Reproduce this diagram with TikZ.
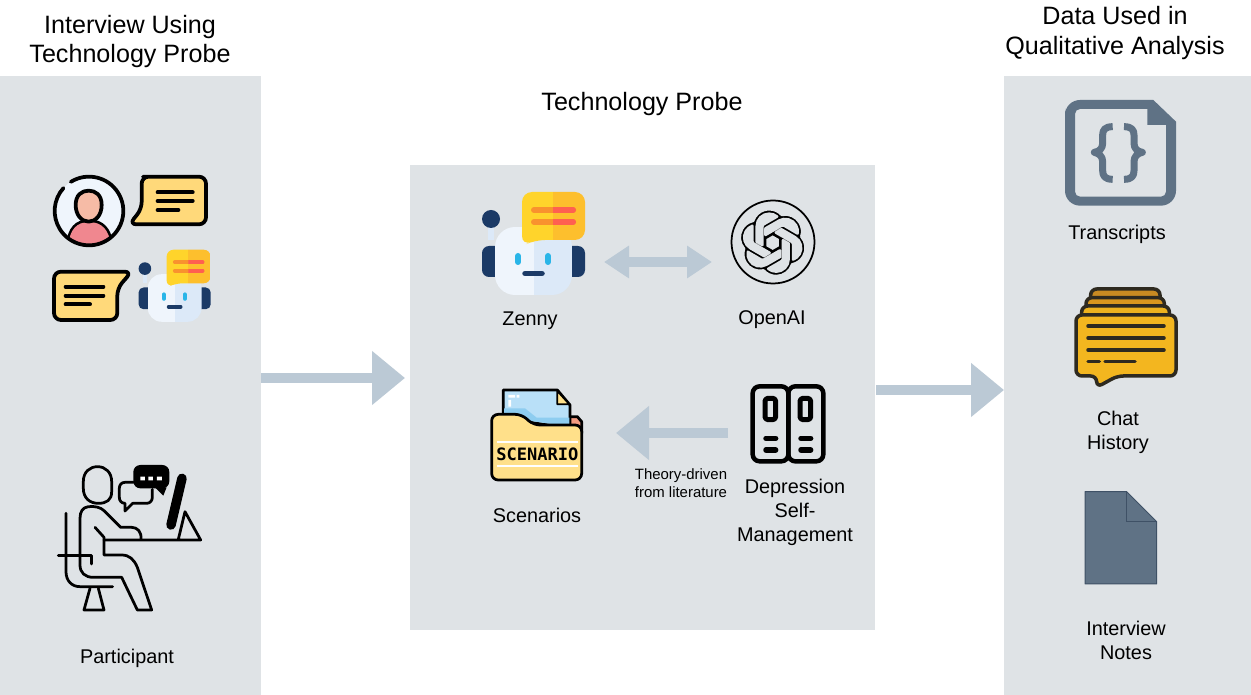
\documentclass[tikz,border=0pt]{standalone}
\usepackage{fontspec}
\setmainfont{Liberation Sans}
\newfontfamily\scnfont{DejaVu Sans Mono}
\usetikzlibrary{arrows.meta,svg.path}
\definecolor{panelc}{HTML}{DFE3E6}
\definecolor{arrowc}{HTML}{BBC9D5}
\definecolor{slatec}{HTML}{5F7285}
\definecolor{slated}{HTML}{3F5166}
\definecolor{navyc}{HTML}{1B3A66}
\definecolor{headl}{HTML}{EFF5FC}
\definecolor{headr}{HTML}{DCE9F8}
\definecolor{bubl}{HTML}{FFD42B}
\definecolor{bubr}{HTML}{FDBF2D}
\definecolor{orgc}{HTML}{F9922E}
\definecolor{redc}{HTML}{FF6050}
\definecolor{eyec}{HTML}{29B5E8}
\definecolor{ybub}{HTML}{FFD97A}
\definecolor{fold}{HTML}{FFE08A}
\definecolor{paper}{HTML}{B9E0F8}
\definecolor{paperd}{HTML}{8ECDF0}
\definecolor{chatm}{HTML}{F3B61F}
\definecolor{chata}{HTML}{EDB21E}
\definecolor{chatb}{HTML}{D8961E}
\definecolor{chatc}{HTML}{C88A22}
\definecolor{chatk}{HTML}{2E2A20}
\definecolor{pinkc}{HTML}{F0878F}
\definecolor{skinc}{HTML}{F6BBA6}
\definecolor{salmon}{HTML}{F29A80}
\tikzset{
  panel/.style={fill=panelc,draw=none,inner sep=0pt,outer sep=0pt},
  lab/.style={font=\fontsize{11.3}{13.66}\selectfont,align=center,text=black,inner sep=0pt},
  head/.style={font=\fontsize{14.3}{17}\selectfont,align=center,text=black,inner sep=0pt},
  small/.style={font=\fontsize{8.5}{10.2}\selectfont,align=center,text=black,inner sep=0pt},
  blockarrow/.style={draw=arrowc,line width=0.2cm,-{Triangle[length=0.66cm,width=1.04cm]}},
  blockboth/.style={draw=arrowc,line width=0.19cm,{Triangle[length=0.5cm,width=0.62cm]}-{Triangle[length=0.5cm,width=0.62cm]}},
  ink/.style={draw=black,line join=round,line cap=round},
}
\newcommand{\robotpic}[3]{%
  \begin{scope}[shift={(#1,#2)},scale=#3]
    \pgfmathsetmacro{\rra}{11.4*#3}
    \pgfmathsetmacro{\rrb}{5.7*#3}
    \pgfmathsetmacro{\rrc}{4*#3}
    \draw[draw=headr,line width=#3*0.12cm] (-43,-21) -- (-43,0);
    \fill[navyc] (-43,-21) circle[radius=9];
    \fill[navyc,rounded corners=\rrc pt] (-52,6) rectangle (-30,37);
    \fill[navyc,rounded corners=\rrc pt] (30,6) rectangle (51,37);
    \begin{scope}
      \clip[rounded corners=\rra pt] (-39,-13) rectangle (38,55);
      \fill[headl] (-39,-13) rectangle (0,55);
      \fill[headr] (0,-13) rectangle (38,55);
    \end{scope}
    \begin{scope}
      \clip[rounded corners=\rrb pt] (-12,6) -- (-12,-48) -- (51,-48) -- (51,0) -- (1,0) -- cycle;
      \fill[bubl] (-13,-49) rectangle (19,7);
      \fill[bubr] (19,-49) rectangle (52,7);
      \draw[orgc,line width=#3*0.12cm,line cap=round] (0,-30) -- (39,-30) (0,-18) -- (39,-18);
      \begin{scope}
        \clip (19,-49) rectangle (52,7);
        \draw[redc,line width=#3*0.12cm,line cap=round] (0,-30) -- (39,-30) (0,-18) -- (39,-18);
      \end{scope}
    \end{scope}
    \draw[eyec,line width=#3*0.12cm,line cap=round] (-16,16) -- (-16,22) (14,16) -- (14,22);
    \draw[navyc,line width=#3*0.11cm,line cap=round] (-9,33.5) -- (8,33.5);
  \end{scope}}
\begin{document}
\begin{tikzpicture}[x=0.02cm,y=-0.02cm]
\useasboundingbox (0,0) rectangle (1251,695);
% panels
\fill[white] (0,0) rectangle (1251,695);
\node[panel,minimum width=5.22cm,minimum height=12.38cm] (pleft) at (130.5,385.5) {};
\node[panel,minimum width=9.3cm,minimum height=9.3cm] (pmid) at (642.5,397.5) {};
\node[panel,minimum width=4.94cm,minimum height=12.38cm] (pright) at (1127.5,385.5) {};
% headings
\node[head] (t1) at (130,41.5) {Interview Using\\Technology Probe};
\node[head] (t2) at (642,104.5) {Technology Probe};
\node[head] (t3) at (1115,33) {Data Used in\\Qualitative Analysis};
% connector ends
\coordinate (a1s) at (261,378); \coordinate (a1e) at (405,378);
\coordinate (a2s) at (876,390); \coordinate (a2e) at (1004,390);
\coordinate (a3s) at (604,262); \coordinate (a3e) at (712,262);
\coordinate (a4s) at (728,433); \coordinate (a4e) at (616,433);
\draw[blockarrow] (a1s) -- (a1e);
\draw[blockarrow] (a2s) -- (a2e);
\draw[blockboth] (a3s) -- (a3e);
\draw[blockarrow] (a4s) -- (a4e);
% chat icons (left panel)
\begin{scope}[shift={(30,160)},scale=1/3]
  \fill[headl] (177,153) circle[radius=103];
  \begin{scope}
    \clip (177,153) circle[radius=103];
    \fill[black] (108,255) .. controls (112,205) and (135,178) .. (177,178) .. controls (220,178) and (245,205) .. (250,255) -- cycle;
    \fill[pinkc] (116,255) .. controls (118,210) and (140,186) .. (177,186) .. controls (215,186) and (238,210) .. (242,255) -- cycle;
  \end{scope}
  \draw[ink,line width=0.075cm,fill=skinc] (137,135) .. controls (137,105) and (155,92) .. (176,92) .. controls (197,92) and (215,105) .. (215,135) .. controls (215,165) and (197,185) .. (176,185) .. controls (155,185) and (137,165) .. (137,135) -- cycle;
  \draw[ink,line width=0.075cm] (177,153) ++(238:103) arc[start angle=238,end angle=582,radius=103];
  \draw[ink,line width=0.075cm,fill=ybub,rounded corners=0.14cm] (360,50) -- (528,50) -- (528,193) -- (298,193) -- (335,147) -- (335,50) -- cycle;
  \draw[ink,line width=0.08cm] (383,97) -- (488,97) (383,123) -- (488,123) (383,150) -- (445,150);
  \draw[ink,line width=0.075cm,fill=ybub,rounded corners=0.14cm] (72,335) -- (305,335) -- (262,385) -- (262,480) -- (72,480) -- cycle;
  \draw[ink,line width=0.08cm] (107,380) -- (220,380) (107,407) -- (220,407) (107,433) -- (180,433);
\end{scope}
\robotpic{175}{283.3}{0.7}
% participant
\begin{scope}[shift={(30,450)},scale=1/3]
  \tikzset{pl/.style={ink,line width=0.055cm}}
  \draw[pl] (160,95) .. controls (160,65) and (180,50) .. (203,50) .. controls (227,50) and (245,68) .. (245,95) -- (245,125) .. controls (245,150) and (230,160) .. (205,160) .. controls (180,160) and (160,145) .. (160,115) -- cycle;
  \draw[pl] (333,268) .. controls (335,245) and (322,232) .. (305,232) -- (272,232) -- (222,182) .. controls (212,172) and (195,168) .. (175,170) .. controls (158,172) and (150,185) .. (150,205) -- (150,345) .. controls (150,368) and (165,382) .. (190,382) -- (275,382) -- (322,480) -- (365,480) -- (322,352) .. controls (312,328) and (298,315) .. (275,315) -- (222,315) -- (222,262) -- (195,232);
  \draw[pl] (222,270) -- (512,270) -- (465,185) -- (445,268);
  \draw[black,line width=0.19cm,line cap=round] (423,225) -- (456,85);
  \draw[pl] (108,190) -- (108,365) .. controls (108,392) and (125,410) .. (150,410) -- (248,410);
  \draw[pl] (85,316) -- (185,316) -- (185,342);
  \draw[pl] (180,415) -- (162,480) -- (222,480) -- (205,415);
  \draw[pl] (310,97) -- (285,97) .. controls (274,97) and (268,105) .. (268,115) -- (268,142) .. controls (268,152) and (274,160) .. (285,160) -- (285,183) -- (308,160) -- (350,160) .. controls (360,160) and (367,152) .. (367,142) -- (367,118);
  \fill[black,rounded corners=0.14cm] (310,45) rectangle (418,115);
  \fill[black] (375,112) -- (400,137) -- (410,112) -- cycle;
  \fill[white] (331,80) rectangle (345,91) (355,80) rectangle (369,91) (381,80) rectangle (396,91);
\end{scope}
\node[lab] (lpart) at (127,658) {Participant};
% zenny
\robotpic{534}{240}{1}
\node[lab] (lzen) at (530,321) {Zenny};
% OpenAI logo
\draw[black,line width=0.035cm] (773,242) circle[radius=41.5];
\begin{scope}[shift={(739.3,209.3)},scale=1.583,yscale=-1]
  \path[fill=black,even odd rule,draw=panelc,line width=0.05cm,line join=round] svg "M 22.2819 9.8211 a 5.9847 5.9847 0 0 0 -0.5157 -4.9108 a 6.0462 6.0462 0 0 0 -6.5098 -2.9 A 6.0651 6.0651 0 0 0 4.9807 4.1818 a 5.9847 5.9847 0 0 0 -3.9977 2.9 a 6.0462 6.0462 0 0 0 0.7427 7.0966 a 5.98 5.98 0 0 0 0.511 4.9107 a 6.051 6.051 0 0 0 6.5146 2.9001 A 5.9847 5.9847 0 0 0 13.2599 24 a 6.0557 6.0557 0 0 0 5.7718 -4.2058 a 5.9894 5.9894 0 0 0 3.9977 -2.9001 a 6.0557 6.0557 0 0 0 -0.7475 -7.0729 z m -9.022 12.6081 a 4.4755 4.4755 0 0 1 -2.8764 -1.0408 l 0.1419 -0.0804 l 4.7783 -2.7582 a 0.7948 0.7948 0 0 0 0.3927 -0.6813 v -6.7369 l 2.02 1.1686 a 0.071 0.071 0 0 1 0.038 0.052 v 5.5826 a 4.504 4.504 0 0 1 -4.4945 4.4944 z m -9.6607 -4.1254 a 4.4708 4.4708 0 0 1 -0.5346 -3.0137 l 0.142 0.0852 l 4.783 2.7582 a 0.7712 0.7712 0 0 0 0.7806 0 l 5.8428 -3.3685 v 2.3324 a 0.0804 0.0804 0 0 1 -0.0332 0.0615 L 9.74 19.9502 a 4.4992 4.4992 0 0 1 -6.1408 -1.6464 z M 2.3408 7.8956 a 4.485 4.485 0 0 1 2.3655 -1.9728 V 11.6 a 0.7664 0.7664 0 0 0 0.3879 0.6765 l 5.8144 3.3543 l -2.0201 1.1685 a 0.0757 0.0757 0 0 1 -0.071 0 l -4.8303 -2.7865 A 4.504 4.504 0 0 1 2.3408 7.872 z m 16.5963 3.8558 L 13.1038 8.364 L 15.1192 7.2 a 0.0757 0.0757 0 0 1 0.071 0 l 4.8303 2.7913 a 4.4944 4.4944 0 0 1 -0.6765 8.1042 v -5.6772 a 0.79 0.79 0 0 0 -0.407 -0.667 z m 2.0107 -3.0231 l -0.142 -0.0852 l -4.7735 -2.7818 a 0.7759 0.7759 0 0 0 -0.7854 0 L 9.409 9.2297 V 6.8974 a 0.0662 0.0662 0 0 1 0.0284 -0.0615 l 4.8303 -2.7866 a 4.4992 4.4992 0 0 1 6.6802 4.66 z M 8.3065 12.863 l -2.02 -1.1638 a 0.0804 0.0804 0 0 1 -0.038 -0.0567 V 6.0742 a 4.4992 4.4992 0 0 1 7.3757 -3.4537 l -0.142 0.0805 L 8.704 5.459 a 0.7948 0.7948 0 0 0 -0.3927 0.6813 z";
  \path[fill=panelc] svg "M 9.75 10.7 L 12.0061 9.4 L 14.26 10.7 L 14.26 13.3 L 12.0156 14.6 L 9.75 13.3 z";
\end{scope}
\node[lab] (lopen) at (772,320) {OpenAI};
% scenario folder
\begin{scope}[shift={(470,375)},scale=1/3]
  \draw[ink,line width=0.055cm,fill=salmon] (295,125) -- (322,125) -- (335,140) -- (335,175) -- (295,175) -- cycle;
  \draw[ink,line width=0.055cm,fill=paper] (100,130) -- (100,45) -- (262,45) -- (300,90) -- (300,160) -- cycle;
  \fill[paperd] (102,100) -- (165,100) -- (200,128) -- (298,128) -- (298,155) -- (102,125) -- cycle;
  \draw[ink,line width=0.035cm,fill=fold] (262,48) -- (262,88) -- (298,88) -- cycle;
  \fill[white] (115,60) rectangle (135,68) (115,75) rectangle (123,95) (140,60) rectangle (148,68);
  \draw[ink,line width=0.055cm,fill=fold,rounded corners=0.13cm] (65,118) -- (155,118) -- (190,150) -- (335,150) -- (335,315) -- (65,315) -- cycle;
  \draw[white,line width=0.04cm] (82,200) -- (325,200) (82,272) -- (325,272);
  \node[font=\fontsize{9.7}{11}\scnfont\bfseries,text=black,inner sep=0pt] (scn) at (202,238) {SCENARIO};
\end{scope}
\node[lab] (lscn) at (537,515) {Scenarios};
\node[small] (ltheory) at (681,483) {Theory-driven\\from literature};
% books
\begin{scope}[shift={(470,375)},scale=1/3]
  \draw[ink,line width=0.09cm,rounded corners=0.14cm] (848,34) rectangle (955,259);
  \draw[ink,line width=0.09cm,rounded corners=0.14cm] (955,34) rectangle (1060,259);
  \draw[ink,line width=0.1cm,rounded corners=0.06cm] (885,70) rectangle (917,134);
  \draw[ink,line width=0.1cm,rounded corners=0.06cm] (990,70) rectangle (1022,134);
  \draw[ink,line width=0.11cm] (888,190) -- (917,190) (888,225) -- (917,225) (993,190) -- (1022,190) (993,225) -- (1022,225);
\end{scope}
\node[lab] (ldep) at (795,512) {Depression\\Self-\\Management};
% transcripts icon
\begin{scope}[shift={(1050,90)},scale=1/3]
  \fill[slatec,even odd rule] (45,100) [rounded corners=0.3cm] -- (45,30) -- (200,30) [sharp corners] -- (310,30) -- (378,95) -- (378,200) [rounded corners=0.3cm] -- (378,347) -- (45,347) -- cycle
    (75,100) [rounded corners=0.1cm] -- (75,57) -- (200,57) [sharp corners] -- (292,57) -- (292,105) -- (348,105) -- (348,200) [rounded corners=0.1cm] -- (348,320) -- (75,320) -- cycle;
  \draw[slatec,line width=0.14cm,line join=round] (188,110) .. controls (165,110) and (158,120) .. (158,135) -- (158,160) .. controls (158,175) and (148,185) .. (133,187) .. controls (148,190) and (158,200) .. (158,215) -- (158,242) .. controls (158,258) and (165,268) .. (188,268);
  \draw[slatec,line width=0.14cm,line join=round] (222,110) .. controls (245,110) and (252,120) .. (252,135) -- (252,160) .. controls (252,175) and (262,185) .. (277,187) .. controls (262,190) and (252,200) .. (252,215) -- (252,242) .. controls (252,258) and (245,268) .. (222,268);
\end{scope}
\node[lab] (ltrans) at (1117,234) {Transcripts};
% chat history icon
\begin{scope}[shift={(1050,90)},scale=1/3]
  \tikzset{cl/.style={draw=chatk,line width=0.07cm,line join=round,rounded corners=0.12cm}}
  \draw[cl,fill=chatc] (122,640) -- (122,597) -- (330,597) -- (330,640) -- cycle;
  \draw[cl,fill=chatb] (108,660) -- (108,623) -- (343,623) -- (343,660) -- cycle;
  \draw[cl,fill=chata] (95,690) -- (95,648) -- (358,648) -- (358,690) -- cycle;
  \draw[cl,fill=chatm] (78,675) -- (378,675) -- (378,858) -- (202,858) -- (140,892) -- (140,858) -- (78,858) -- cycle;
  \draw[chatk,line width=0.07cm,line cap=round] (114,708) -- (342,708) (114,744) -- (342,744) (114,780) -- (342,780) (114,815) -- (148,815) (165,815) -- (255,815);
\end{scope}
\node[lab] (lchat) at (1118,432) {Chat\\History};
% notes icon
\begin{scope}[shift={(1070,480)},scale=1/3]
  \draw[slated,line width=0.02cm,fill=slatec,line join=round] (45,35) -- (170,35) -- (260,125) -- (260,312) -- (45,312) -- cycle;
  \draw[slated,line width=0.03cm] (170,35) -- (170,125) -- (260,125);
\end{scope}
\node[lab] (lnote) at (1126,640) {Interview\\Notes};
\end{tikzpicture}
\end{document}
